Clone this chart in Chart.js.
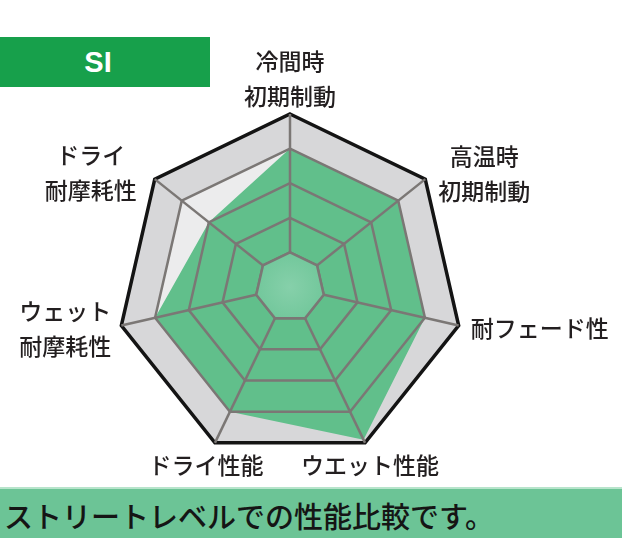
<!DOCTYPE html>
<html>
<head>
<meta charset="utf-8">
<script src="https://cdn.jsdelivr.net/npm/chart.js@4.4.1/dist/chart.umd.min.js"></script>
<style>
  html, body { margin: 0; padding: 0; background: #fff; width: 622px; height: 538px; overflow: hidden; }
  #head {
    position: absolute; left: 0; top: 37px; width: 196px; height: 50px; padding-right: 14px;
    background: #17a04b; color: #fff;
    display: flex; align-items: center; justify-content: center;
    font: bold 29px "Liberation Sans", Arial, sans-serif;
  }
  #foot {
    position: absolute; left: 0; top: 487px; width: 622px; height: 49px;
    background: #6cc496; border-top: 2px solid #b7e4cb;
  }
  #foot span {
    position: absolute; left: 4px; top: 5px; font: 500 29px "Noto Sans CJK JP", sans-serif; color: #151515;
  }
  #chartOne { position: absolute; left: 0; top: 0; }
</style>
</head>
<body>
<div id="head">SI</div>
<div id="foot"><span>ストリートレベルでの性能比較です。</span></div>
<canvas id="chartOne" width="622" height="538"></canvas>
<script>
// axes, clockwise from the top
const categories = [
  ["冷間時", "初期制動"],
  ["高温時", "初期制動"],
  "耐フェード性",
  "ウエット性能",
  "ドライ性能",
  ["ウェット", "耐摩耗性"],
  ["ドライ", "耐摩耗性"]
];
const siValues = [4.0, 4.0, 4.0, 4.9, 4.0, 4.0, 3.0];
const scaleMin = 0;
const scaleMax = 5;
const scaleStep = 1;

const lineGray = "#7b7775";

// where each axis name sits relative to its outer corner
const labelPlace = [
  { align: "center", dx: 0,   dy: -35, lines: "center" },
  { align: "left",   dx: 13,  dy: -5,  lines: "center" },
  { align: "left",   dx: 12,  dy: 3,   lines: "left" },
  { align: "center", dx: 5,   dy: 22,  lines: "center" },
  { align: "center", dx: -9,  dy: 22,  lines: "center" },
  { align: "right",  dx: -10, dy: 3,   lines: "left" },
  { align: "right",  dx: -18, dy: -6,  lines: "center" }
];

function ringPath(ctx, scale, value){
  const d = scale.getDistanceFromCenterForValue(value);
  ctx.beginPath();
  for (let i = 0; i < categories.length; i++) {
    const p = scale.getPointPosition(i, d);
    if (i === 0) ctx.moveTo(p.x, p.y); else ctx.lineTo(p.x, p.y);
  }
  ctx.closePath();
}

// grey bands behind the data, plain centre cell on top
const bandPlugin = {
  id: "bands",
  beforeDatasetsDraw(chart){
    const ctx = chart.ctx, r = chart.scales.r;
    ctx.save();
    ringPath(ctx, r, scaleMax);
    ctx.fillStyle = "#d7d7d9";
    ctx.fill();
    ringPath(ctx, r, scaleMax - scaleStep);
    ctx.fillStyle = "#ececed";
    ctx.fill();
    ctx.restore();
  },
  afterDraw(chart){
    const ctx = chart.ctx, r = chart.scales.r;
    ctx.save();
    ringPath(ctx, r, scaleMin + scaleStep);
    const g = ctx.createRadialGradient(r.xCenter, r.yCenter, 0, r.xCenter, r.yCenter, r.getDistanceFromCenterForValue(1));
    g.addColorStop(0, "#86d0aa");
    g.addColorStop(1, "#72c79b");
    ctx.fillStyle = g;
    ctx.fill();
    ctx.strokeStyle = lineGray;
    ctx.lineWidth = 2.5;
    ctx.lineJoin = "round";
    ctx.stroke();
    ctx.restore();
  }
};

// axis names around the outside
const labelPlugin = {
  id: "axisNames",
  afterDraw(chart){
    const ctx = chart.ctx, r = chart.scales.r;
    ctx.save();
    ctx.font = '500 23px "Noto Sans CJK JP", sans-serif';
    ctx.fillStyle = "#231f20";
    ctx.textBaseline = "middle";
    const lh = 35;
    categories.forEach((c, i) => {
      const lines = Array.isArray(c) ? c : [c];
      const pl = labelPlace[i];
      const p = r.getPointPosition(i, r.drawingArea);
      const w = Math.max(...lines.map(t => ctx.measureText(t).width));
      const h = lines.length * lh;
      let left = p.x + pl.dx;
      if (pl.align === "center") left -= w / 2;
      if (pl.align === "right") left -= w;
      const top = p.y + pl.dy - h / 2;
      lines.forEach((t, k) => {
        const tw = ctx.measureText(t).width;
        const x = pl.lines === "left" ? left : left + (w - tw) / 2;
        ctx.fillText(t, x, top + lh * k + lh / 2);
      });
    });
    ctx.restore();
  }
};

function BuildChart(labels, values){
  const ctx = document.getElementById("chartOne").getContext("2d");
  return new Chart(ctx, {
    type: "radar",
    data: {
      labels: labels,
      datasets: [{
        label: "SI",
        data: values,
        backgroundColor: "#61bf8b",
        borderWidth: 0,
        pointRadius: 0
      }]
    },
    options: {
      responsive: false,
      animation: false,
      layout: { padding: { left: 117, top: 114, right: 159, bottom: 78 } },
      plugins: { legend: { display: false }, tooltip: { enabled: false } },
      scales: {
        r: {
          min: scaleMin,
          max: scaleMax,
          ticks: { stepSize: scaleStep, display: false, z: 1 },
          pointLabels: { display: false },
          angleLines: { color: lineGray, lineWidth: 2.5 },
          grid: {
            z: 1,
            color: c => c.tick && c.tick.value === scaleMax ? "#141414" : lineGray,
            lineWidth: c => c.tick && c.tick.value === scaleMax ? 3.5 : 2.5
          }
        }
      }
    },
    plugins: [bandPlugin, labelPlugin]
  });
}

BuildChart(categories, siValues);
</script>
</body>
</html>
